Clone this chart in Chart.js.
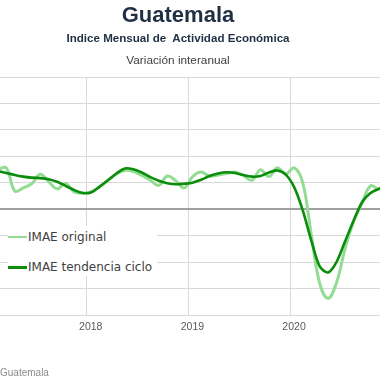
<!DOCTYPE html>
<html><head><meta charset="utf-8">
<script src="https://cdn.jsdelivr.net/npm/chart.js@4.4.1/dist/chart.umd.min.js"></script>
<style>
html,body{margin:0;padding:0;background:#fff;}
body{width:380px;height:380px;overflow:hidden;position:relative;}
#c{position:absolute;left:0;top:0;}
.t{position:absolute;white-space:pre;text-align:center;line-height:1;}
.lg{position:absolute;left:8px;top:226px;width:149px;height:50px;background:#fff;}
.row{position:absolute;left:8px;height:14px;display:flex;align-items:center;font:12px 'DejaVu Sans',sans-serif;color:#404040;white-space:pre;}
.sw{width:19px;margin-right:1px;}
</style></head><body>
<canvas id="c" width="380" height="380"></canvas>
<div class="t" style="left:0;width:356px;top:2px;font:bold 22px 'Liberation Sans',Arial,sans-serif;color:#1f2f44">Guatemala</div>
<div class="t" style="left:0;width:356px;top:31px;font:bold 11.6px 'Liberation Sans',Arial,sans-serif;color:#1f2f44">Indice Mensual de  Actividad Económica</div>
<div class="t" style="left:0;width:356px;top:53px;font:11.8px 'Liberation Sans',Arial,sans-serif;color:#404040">Variación interanual</div>
<div class="lg"></div>
<div class="row" style="top:230px"><div class="sw" style="height:2px;background:#93dc93"></div>IMAE original</div>
<div class="row" style="top:260px"><div class="sw" style="height:3px;background:#0c8c0c"></div>IMAE tendencia ciclo</div>
<div class="t" style="left:0;top:367px;text-align:left;font:10px 'Liberation Sans',Arial,sans-serif;color:#8c8c8c">Guatemala</div>
<script>
const months = [
  "2017-02","2017-03","2017-04","2017-05","2017-06","2017-07","2017-08","2017-09","2017-10","2017-11","2017-12",
  "2018-01","2018-02","2018-03","2018-04","2018-05","2018-06","2018-07","2018-08","2018-09","2018-10","2018-11","2018-12",
  "2019-01","2019-02","2019-03","2019-04","2019-05","2019-06","2019-07","2019-08","2019-09","2019-10","2019-11","2019-12",
  "2020-01","2020-02","2020-03","2020-04","2020-05","2020-06","2020-07","2020-08","2020-09","2020-10","2020-11","2020-12"
];
const original = [
  4.53, 4.71, 2.09, 2.44, 2.91, 3.99, 3.14, 2.33, 2.94, 1.98, 1.86,
  1.98, 2.56, 3.26, 4.01, 4.42, 4.30, 3.84, 3.31, 2.73, 3.78, 3.26, 2.44,
  3.72, 4.24, 3.78, 3.90, 4.07, 4.24, 3.84, 3.31, 4.48, 3.72, 4.71, 4.01,
  4.71, 3.02, -2.79, -8.37, -10.06, -8.26, -4.42, -1.40, 0.70, 2.67, 2.33, 2.90
];
const trend = [
  4.36, 4.13, 3.90, 3.72, 3.60, 3.55, 3.43, 3.14, 2.67, 2.21, 1.86,
  1.92, 2.56, 3.31, 4.07, 4.65, 4.56, 4.19, 3.66, 3.26, 2.97, 2.85, 2.91,
  3.02, 3.37, 3.78, 4.07, 4.21, 4.13, 3.90, 3.72, 3.78, 4.19, 4.42, 3.95,
  2.50, -0.10, -3.49, -6.45, -7.13, -5.93, -3.60, -1.28, 0.81, 1.86, 2.33, 2.67
];
const yearLabels = ["2018", "2019", "2020"];

const monthIndex = m => { const p = m.split('-').map(Number); return (p[0] - 2018) * 12 + (p[1] - 1); };
const yearTicks = yearLabels.map(y => monthIndex(y + '-01') - 0.5);

new Chart(document.getElementById('c'), {
  type: 'line',
  data: {
    datasets: [
      { label: 'IMAE original', data: months.map((m, i) => ({ x: monthIndex(m), y: original[i] })),
        borderColor: '#93dc93', borderWidth: 3, pointRadius: 0, tension: 0.4, order: 1 },
      { label: 'IMAE tendencia ciclo', data: months.map((m, i) => ({ x: monthIndex(m), y: trend[i] })),
        borderColor: '#0c8c0c', borderWidth: 2.6, pointRadius: 0, tension: 0.3, order: 0 }
    ]
  },
  options: {
    responsive: false, devicePixelRatio: 1, animation: false,
    layout: { padding: { top: 77, bottom: 42, left: 0, right: 0 } },
    plugins: { legend: { display: false }, tooltip: { enabled: false } },
    scales: {
      x: {
        type: 'linear', min: -10.74, max: 34.12,
        afterBuildTicks: s => { s.ticks = yearTicks.map(v => ({ value: v })); },
        grid: { color: '#d9d9d9', lineWidth: 1, drawTicks: false },
        border: { display: false },
        ticks: { autoSkip: false, maxRotation: 0, labelOffset: 4, padding: 5, color: '#595959',
          font: { family: 'Liberation Sans', size: 10.5 },
          callback: (v, i) => yearLabels[i] }
      },
      y: {
        min: -12, max: 15,
        ticks: { display: false, stepSize: 3 },
        grid: { drawTicks: false,
          color: c => (c.tick && c.tick.value === 0) ? '#a0a0a0' : '#d9d9d9',
          lineWidth: c => (c.tick && c.tick.value === 0) ? 2 : 1 },
        border: { display: false }
      }
    }
  }
});
</script>
</body></html>
